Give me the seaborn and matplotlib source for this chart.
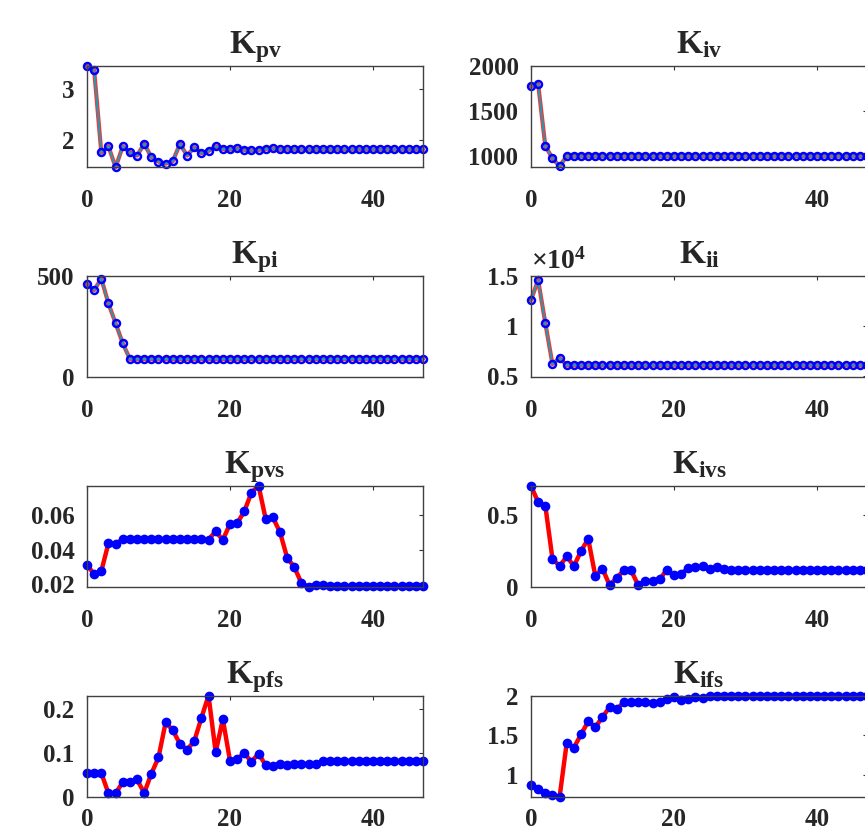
import numpy as np
import seaborn as sns
import matplotlib.pyplot as plt
from matplotlib.ticker import FuncFormatter

# --- data (iteration 0..47) ---
ITER = np.arange(48)

K_PV = [3.45, 3.37, 1.75, 1.87, 1.46, 1.87, 1.75, 1.69, 1.92, 1.66, 1.57, 1.53,
        1.58, 1.92, 1.69, 1.85, 1.74, 1.78, 1.87, 1.82, 1.81, 1.83, 1.80, 1.79,
        1.80, 1.82, 1.83, 1.81, 1.81, 1.81, 1.81, 1.81, 1.81, 1.81, 1.81, 1.81,
        1.81, 1.81, 1.81, 1.81, 1.81, 1.81, 1.81, 1.81, 1.81, 1.81, 1.81, 1.81]

K_IV = [1775, 1801, 1112, 978, 888] + [1000] * 43

K_PI = [459, 430, 487, 364, 266, 167] + [89] * 42

K_II = [12600, 14600, 10300, 6200, 6800] + [6070] * 43

K_PVS = [0.0314, 0.0257, 0.0276, 0.0436, 0.0432, 0.0459, 0.0459, 0.0459, 0.0459,
         0.0459, 0.0459, 0.0459, 0.0459, 0.0459, 0.0459, 0.0459, 0.0459, 0.0457,
         0.0505, 0.0455, 0.0547, 0.0551, 0.0619, 0.0727, 0.0766, 0.0575, 0.0585,
         0.0499, 0.0353, 0.0299, 0.0207, 0.0187, 0.0199, 0.0195, 0.0192, 0.0191,
         0.0190, 0.0190, 0.0190, 0.0190, 0.0190, 0.0190, 0.0190, 0.0190, 0.0190,
         0.0190, 0.0190, 0.0190]

K_IVS = [0.702, 0.587, 0.564, 0.196, 0.145, 0.212, 0.145, 0.249, 0.334, 0.076,
         0.127, 0.012, 0.065, 0.115, 0.115, 0.012, 0.041, 0.041, 0.053, 0.120,
         0.081, 0.092, 0.131, 0.138, 0.145, 0.127, 0.138, 0.124, 0.120, 0.118,
         0.118, 0.118, 0.118, 0.118, 0.118, 0.118, 0.118, 0.118, 0.118, 0.118,
         0.118, 0.118, 0.118, 0.118, 0.118, 0.118, 0.118, 0.118]

K_PFS = [0.055, 0.055, 0.055, 0.008, 0.008, 0.034, 0.034, 0.040, 0.009, 0.053,
         0.090, 0.170, 0.152, 0.121, 0.108, 0.127, 0.180, 0.231, 0.102, 0.177,
         0.083, 0.086, 0.100, 0.080, 0.099, 0.072, 0.071, 0.076, 0.074, 0.076,
         0.076, 0.075, 0.076, 0.081, 0.082, 0.082, 0.082, 0.082, 0.082, 0.082,
         0.082, 0.082, 0.082, 0.082, 0.082, 0.082, 0.082, 0.082]

K_IFS = [0.864, 0.822, 0.766, 0.737, 0.716, 1.407, 1.343, 1.512, 1.677, 1.605,
         1.732, 1.859, 1.830, 1.923, 1.923, 1.930, 1.930, 1.910, 1.930, 1.966,
         1.986, 1.953, 1.966, 1.986, 1.977] + [2.0] * 23

# --- panel setup ---
sns.set_style('white')
plt.rcParams['font.family'] = ['Liberation Serif', 'DejaVu Serif']
plt.rcParams['font.weight'] = 'bold'
plt.rcParams['mathtext.fontset'] = 'custom'
plt.rcParams['mathtext.rm'] = 'Liberation Serif'
plt.rcParams['mathtext.bf'] = 'Liberation Serif:bold'

W, H = 865, 838
fig = plt.figure(figsize=(W / 100, H / 100), dpi=100)

col_left = [87, 531]
row_top = [66, 276, 486, 696]
ax_w, ax_h = 336, 101

panels = [
    (K_PV, r'$\mathbf{K_{pv}}$', (1.465, 3.45), [2, 3], 'open'),
    (K_IV, r'$\mathbf{K_{iv}}$', (880, 2000), [1000, 1500, 2000], 'open'),
    (K_PI, r'$\mathbf{K_{pi}}$', (0, 500), [0, 500], 'open'),
    (K_II, r'$\mathbf{K_{ii}}$', (4900, 15000), [5000, 10000, 15000], 'open'),
    (K_PVS, r'$\mathbf{K_{pvs}}$', (0.0185, 0.0765), [0.02, 0.04, 0.06], 'filled'),
    (K_IVS, r'$\mathbf{K_{ivs}}$', (0, 0.70), [0, 0.5], 'filled'),
    (K_PFS, r'$\mathbf{K_{pfs}}$', (0, 0.23), [0, 0.1, 0.2], 'filled'),
    (K_IFS, r'$\mathbf{K_{ifs}}$', (0.716, 2.0), [1, 1.5, 2], 'filled'),
]

for i, (vals, title, ylim, yticks, style) in enumerate(panels):
    r, c = divmod(i, 2)
    left = col_left[c] / W
    bottom = 1 - (row_top[r] + ax_h) / H
    ax = fig.add_axes([left, bottom, ax_w / W, ax_h / H])

    if style == 'open':
        sns.lineplot(x=ITER, y=vals, ax=ax, color='red', lw=3.0, alpha=0.8)
        sns.lineplot(x=ITER, y=vals, ax=ax, color='#1f9db0', lw=1.4,
                     marker='o', ms=5, mec='blue', mfc='none', mew=1.8)
    else:
        sns.lineplot(x=ITER, y=vals, ax=ax, color='red', lw=3.2,
                     marker='o', ms=7, mec='blue', mfc='blue', mew=0)
    for ln in ax.lines:
        ln.set_clip_on(False)

    ax.set_xlim(0, 47)
    ax.set_ylim(*ylim)
    ax.set_xticks([0, 20, 40])
    ax.set_yticks(yticks)
    if title == r'$\mathbf{K_{ii}}$':
        ax.yaxis.set_major_formatter(FuncFormatter(lambda v, p: f'{v / 1e4:g}'))
        ax.text(0.0, 1.01, r'$\times\mathbf{10^4}$', transform=ax.transAxes,
                fontsize=20, ha='left', va='bottom')
    else:
        ax.yaxis.set_major_formatter(FuncFormatter(lambda v, p: f'{v:g}'))

    ax.tick_params(direction='in', top=True, right=True, length=3, width=0.8,
                   color='#333333')
    ax.tick_params(axis='x', labelsize=18, pad=16 if r < 3 else 8)
    ax.tick_params(axis='y', labelsize=18, pad=9)
    for lab in ax.get_xticklabels() + ax.get_yticklabels():
        lab.set_fontweight('bold')
    for sp in ax.spines.values():
        sp.set_color('#404040')
        sp.set_linewidth(1.0)
    ax.set_xlabel('')
    ax.set_ylabel('')
    ax.set_title(title, fontsize=24, pad=9)

fig.savefig('out.png', dpi=100)
